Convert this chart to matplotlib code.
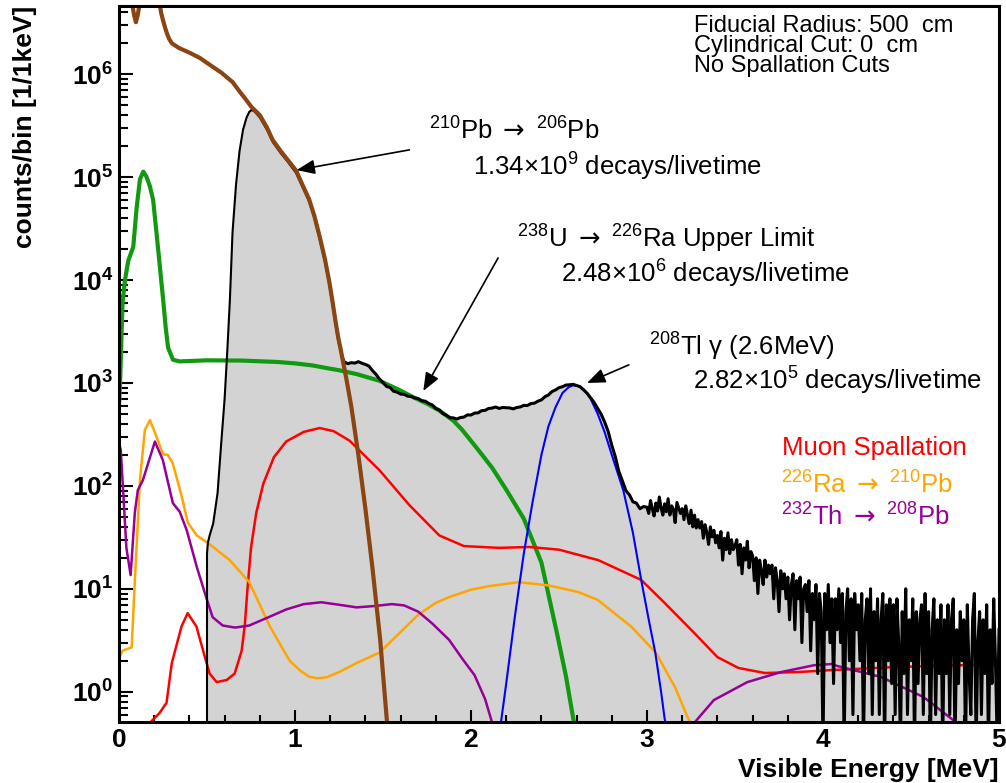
import numpy as np
import matplotlib
matplotlib.use('Agg')
import matplotlib.pyplot as plt
from matplotlib.ticker import LogLocator, MultipleLocator, FuncFormatter, NullFormatter

plt.rcParams['font.family'] = ['Liberation Sans', 'DejaVu Sans']
plt.rcParams['mathtext.fontset'] = 'custom'
plt.rcParams['mathtext.rm'] = 'Liberation Sans'
plt.rcParams['mathtext.it'] = 'Liberation Sans:italic'
plt.rcParams['mathtext.bf'] = 'Liberation Sans:bold'
plt.rcParams['mathtext.sf'] = 'DejaVu Sans'

# --- 210Pb -> 206Pb (brown)
pb210_e = [0.0, 0.05, 0.07, 0.085, 0.096, 0.107, 0.122, 0.15, 0.21, 0.232, 0.24, 0.249, 0.26, 0.272,
           0.285, 0.30, 0.34, 0.40, 0.459, 0.52, 0.58, 0.645, 0.685, 0.72, 0.753, 0.80, 0.84, 0.873,
           0.92, 0.96, 1.006, 1.04, 1.08, 1.11, 1.14, 1.17, 1.195, 1.215, 1.23, 1.245, 1.26, 1.29,
           1.32, 1.36, 1.40, 1.44, 1.484, 1.523, 1.55]
pb210_y = [1e7, 8e6, 5.5e6, 3.8e6, 3.2e6, 3.8e6, 5.5e6, 9e6, 8e6, 4.7e6, 3.9e6, 3.4e6, 2.9e6, 2.5e6,
           2.2e6, 2.0e6, 1.8e6, 1.62e6, 1.44e6, 1.22e6, 1.04e6, 8.4e5, 6.8e5, 5.7e5, 4.8e5, 4.0e5, 3.05e5, 2.3e5,
           1.78e5, 1.46e5, 1.16e5, 8.6e4, 6.1e4, 4.2e4, 2.65e4, 1.6e4, 9.6e3, 5.9e3, 4.0e3, 2.8e3, 2.1e3, 1.14e3,
           590, 200, 60, 16, 3.2, 0.5, 0.2]

# --- 238U -> 226Ra (green)
u238_e = [0.0, 0.006, 0.02, 0.034, 0.053, 0.081, 0.10, 0.119, 0.138, 0.155, 0.175, 0.194, 0.223, 0.251,
          0.265, 0.279, 0.307, 0.345, 0.5, 0.7, 0.9, 1.0, 1.1, 1.195, 1.25, 1.35, 1.48, 1.59, 1.67,
          1.75, 1.82, 1.90, 1.95, 2.04, 2.12, 2.2, 2.3, 2.4, 2.49, 2.54, 2.585, 2.61]
u238_y = [600, 1000, 6000, 1.0e4, 1.55e4, 2.1e4, 5e4, 9.5e4, 1.13e5, 1.02e5, 8.2e4, 6e4, 1.95e4, 6.4e3,
          3.5e3, 2.2e3, 1.68e3, 1.62e3, 1.66e3, 1.65e3, 1.6e3, 1.55e3, 1.48e3, 1.38e3, 1.33e3, 1.22e3, 1.05e3, 860, 730,
          630, 540, 430, 350, 225, 150, 92, 48, 18, 3.6, 1.4, 0.5, 0.3]

# --- 208Tl gamma (blue)
tl208_e = [2.15, 2.17, 2.20, 2.25, 2.30, 2.35, 2.40, 2.44, 2.48, 2.52, 2.555, 2.58, 2.61, 2.64, 2.68,
           2.72, 2.76, 2.80, 2.865, 2.92, 2.967, 3.01, 3.047, 3.08, 3.10, 3.13]
tl208_y = [0.3, 0.5, 1.2, 5.5, 22, 70, 200, 380, 580, 800, 910, 950, 930, 870, 700,
           500, 330, 200, 91, 35, 12.2, 5, 2.4, 1.0, 0.55, 0.3]

# --- Muon spallation (red)
spall_e = [0.15, 0.176, 0.23, 0.27, 0.30, 0.355, 0.39, 0.44, 0.487, 0.515, 0.555, 0.612, 0.657, 0.697,
           0.715, 0.73, 0.75, 0.78, 0.82, 0.88, 0.95, 1.05, 1.14, 1.22, 1.31, 1.48, 1.65, 1.82, 1.96,
           2.16, 2.33, 2.50, 2.723, 2.967, 3.10, 3.27, 3.40, 3.52, 3.67, 3.85, 4.04, 4.42, 5.0]
spall_y = [0.3, 0.5, 0.62, 0.78, 1.9, 4.3, 5.8, 4.3, 2.2, 1.5, 1.24, 1.3, 1.5, 2.5,
           4.5, 10, 25, 55, 105, 190, 270, 335, 365, 340, 275, 142, 65, 33, 26,
           25, 25.5, 24, 19, 12.2, 7.3, 3.7, 2.17, 1.7, 1.52, 1.55, 1.62, 1.74, 1.85]

# --- 226Ra -> 210Pb (orange)
ra226_e = [0.0, 0.02, 0.072, 0.09, 0.119, 0.147, 0.176, 0.215, 0.249, 0.277, 0.306, 0.357, 0.391, 0.442,
           0.504, 0.629, 0.74, 0.80, 0.855, 0.92, 0.97, 1.03, 1.08, 1.124, 1.18, 1.25, 1.35, 1.48, 1.60,
           1.70, 1.80, 1.875, 2.0, 2.10, 2.27, 2.44, 2.61, 2.72, 2.91, 3.05, 3.16, 3.23, 3.26, 3.3]
ra226_y = [2.1, 2.5, 2.7, 12, 114, 350, 435, 295, 203, 200, 165, 78, 44, 33,
           28, 19, 11.6, 7, 4.4, 2.8, 2.0, 1.6, 1.4, 1.35, 1.38, 1.55, 1.9, 2.4, 3.8,
           5.6, 7.3, 8.3, 9.8, 10.6, 11.6, 10.8, 9.3, 7.8, 4.3, 2.4, 1.1, 0.57, 0.45, 0.2]

# --- 232Th -> 208Pb (purple)
th232_e = [0.0, 0.01, 0.02, 0.042, 0.066, 0.09, 0.107, 0.136, 0.204, 0.249, 0.306, 0.345, 0.385, 0.442,
           0.498, 0.532, 0.589, 0.66, 0.74, 0.85, 0.95, 1.05, 1.15, 1.25, 1.35, 1.45, 1.55, 1.62, 1.70, 1.78,
           1.875, 1.95, 2.02, 2.08, 2.12, 2.14, 2.4, 2.8, 3.2, 3.27, 3.29, 3.38, 3.57, 3.76, 3.95, 4.05,
           4.08, 4.33, 4.57, 4.74, 4.78]
th232_y = [260, 223, 114, 25, 13.6, 55, 91, 114, 270, 178, 68, 56, 37, 16.3,
           8.0, 5.3, 4.4, 4.2, 4.4, 5.3, 6.3, 7.1, 7.4, 7.0, 6.6, 6.8, 7.1, 6.9, 6.0, 4.6,
           3.2, 2.1, 1.45, 0.85, 0.5, 0.35, 0.05, 0.02, 0.3, 0.5, 0.55, 0.83, 1.24, 1.55, 1.81, 1.86,
           1.78, 1.39, 0.89, 0.53, 0.45]

# --- data histogram (black, gray fill)
data_rise_e = [0.5, 0.5, 0.505, 0.515, 0.535, 0.56, 0.58, 0.60, 0.615, 0.63, 0.645, 0.665, 0.685, 0.705,
               0.725, 0.74, 0.753, 0.77, 0.80, 0.84, 0.873, 0.92, 0.96, 1.006, 1.04, 1.08, 1.11, 1.14,
               1.17, 1.195, 1.215, 1.23, 1.245, 1.26, 1.27]
data_rise_y = [1e-3, 22, 28, 33, 43, 85, 250, 700, 2000, 6.4e3, 2.9e4, 8.5e4, 1.8e5, 2.9e5,
               3.8e5, 4.3e5, 4.5e5, 4.35e5, 3.8e5, 2.9e5, 2.2e5, 1.7e5, 1.4e5, 1.1e5, 8.2e4, 5.8e4, 4.0e4, 2.5e4,
               1.5e4, 9e3, 5.5e3, 3.7e3, 2.6e3, 2.0e3, 1.75e3]
# 1.28 .. 2.98, every 0.02 MeV
data_mid_y = [1600, 1540, 1575, 1560, 1610, 1555, 1515, 1460, 1320, 1215,
              1090, 1010, 925, 905, 830, 815, 780, 775, 745, 740,
              715, 705, 672, 665, 632, 612, 565, 545, 505, 485,
              460, 458, 446, 462, 466, 490, 488, 510, 512, 538,
              542, 565, 570, 584, 566, 578, 575, 572, 560, 578,
              585, 606, 604, 630, 636, 665, 685, 735, 765, 825,
              855, 900, 920, 955, 960, 970, 945, 920, 855, 795,
              715, 645, 565, 495, 415, 335, 248, 192, 138, 112,
              90, 82, 70, 68, 60, 63]
# 3.00 .. 5.00, every 0.01 MeV
data_tail_y = [62, 54, 72, 60, 51, 68, 57, 78, 61, 52,
               67, 56, 75, 52, 64, 59, 44, 69, 61, 54,
               60, 47, 64, 52, 43, 58, 40, 52, 39, 47,
               39, 45, 31, 42, 35, 27, 40, 32, 37, 28,
               33, 25, 36, 19, 31, 24, 35, 22, 30, 24,
               26, 30, 17, 27, 14, 25, 19, 29, 16, 23,
               21, 12, 20, 9, 19, 15, 11, 19, 13, 17,
               14, 17, 8, 16, 12, 6, 15, 10, 14, 8,
               13, 5, 11, 14, 4, 12, 8, 13, 3, 10,
               11, 6, 12, 2.5, 9, 5, 11, 1.5, 9, 6,
               0.3, 9, 4, 11, 3, 8, 1.2, 8, 4, 10,
               3, 9, 0.3, 6, 10, 2, 8, 0.6, 9, 4,
               7, 2, 9, 0.3, 5, 8, 1.5, 10, 0.6, 6,
               2, 8, 0.6, 5, 9, 0.3, 7, 2, 8, 1.2,
               7, 0.6, 8, 3, 0.3, 6, 1.5, 10, 0.6, 5,
               2, 8, 0.3, 6, 1.2, 5, 7, 0.6, 9, 1.5,
               6, 0.3, 4, 8, 0.6, 5, 1.5, 7, 0.3, 5,
               1.5, 7, 0.6, 5, 8, 0.3, 4, 1.2, 6, 2,
               5, 0.3, 7, 1.5, 0.6, 5, 9, 0.3, 3, 6,
               0.6, 5, 1.5, 7, 0.3, 4, 1.2, 8, 2, 0.3, 4]

mid_e = 1.28 + 0.02 * np.arange(len(data_mid_y))
tail_e = 3.00 + 0.01 * np.arange(len(data_tail_y))
data_e = np.concatenate([data_rise_e, mid_e, tail_e])
data_y = np.concatenate([data_rise_y, data_mid_y, data_tail_y])

W, H = 1006, 783
fig = plt.figure(figsize=(W / 100, H / 100), dpi=100)
ax = fig.add_axes([119 / W, 1 - 722 / H, (999 - 119) / W, (722 - 6) / H])


def fx(px):
    return px / W


def fy(py):
    return 1 - py / H


ax.fill_between(data_e, data_y, 1e-3, color='#d3d3d3', lw=0, zorder=1)
ax.plot(u238_e, u238_y, color='#119911', lw=3, zorder=2)
ax.plot(spall_e, spall_y, color='#ff0000', lw=1.8, zorder=2)
ax.plot(ra226_e, ra226_y, color='#ffa500', lw=1.8, zorder=2)
ax.plot(th232_e, th232_y, color='#960096', lw=1.8, zorder=2)
ax.plot(tl208_e, tl208_y, color='#0000ff', lw=1.5, zorder=2)
# smooth part of the data thin, noisy part thicker
ax.plot(data_rise_e, data_rise_y, color='black', lw=1.5, zorder=3)
ax.plot(data_e[len(data_rise_e) - 1:], data_y[len(data_rise_e) - 1:], color='black', lw=2.2, zorder=3)
ax.plot(pb210_e, pb210_y, color='#8b4513', lw=3, zorder=4)

ax.set_xlim(0, 5)
ax.set_yscale('log')
ax.set_ylim(0.508, 4.6e6)

ax.xaxis.set_major_locator(MultipleLocator(1))
ax.xaxis.set_minor_locator(MultipleLocator(0.2))
ax.xaxis.set_major_formatter(FuncFormatter(lambda v, p: r'$\mathbf{%d}$' % round(v)))
ax.yaxis.set_major_locator(LogLocator(base=10, numticks=20))
ax.yaxis.set_minor_locator(LogLocator(base=10, subs=np.arange(2, 10), numticks=20))
ax.yaxis.set_major_formatter(FuncFormatter(lambda v, p: r'$\mathbf{10^{%d}}$' % round(np.log10(v))))
ax.yaxis.set_minor_formatter(NullFormatter())

ax.tick_params(which='both', direction='in', top=False, right=False, width=1.5, labelsize=19)
ax.tick_params(axis='x', which='major', length=8.5, pad=4)
ax.tick_params(axis='x', which='minor', length=5)
ax.tick_params(axis='y', which='major', length=10, pad=4)
ax.tick_params(axis='y', which='minor', length=6.5)
for sp in ax.spines.values():
    sp.set_linewidth(2.2)
    sp.set_zorder(10)

fig.text(fx(999), fy(777), 'Visible Energy [MeV]', fontsize=19, fontweight='bold',
         ha='right', va='baseline')
fig.text(fx(25), fy(6), 'counts/bin [1/1keV]', fontsize=19, fontweight='bold',
         rotation=90, ha='center', va='top')

arr = r'$\mathsf{\rightarrow}$'
fs = 18.5
fig.text(fx(429), fy(140), r'$^{210}$Pb ' + arr + r' $^{206}$Pb', fontsize=fs, va='baseline')
fig.text(fx(473), fy(176), r'1.34×10$^{9}$ decays/livetime', fontsize=fs, va='baseline')
fig.text(fx(517), fy(248), r'$^{238}$U ' + arr + r' $^{226}$Ra Upper Limit', fontsize=fs, va='baseline')
fig.text(fx(561), fy(283), r'2.48×10$^{6}$ decays/livetime', fontsize=fs, va='baseline')
fig.text(fx(649), fy(356), r'$^{208}$Tl γ (2.6MeV)', fontsize=fs, va='baseline')
fig.text(fx(693), fy(390), r'2.82×10$^{5}$ decays/livetime', fontsize=fs, va='baseline')

fig.text(fx(694), fy(32), 'Fiducial Radius: 500  cm', fontsize=17, va='baseline')
fig.text(fx(694), fy(52), 'Cylindrical Cut: 0  cm', fontsize=17, va='baseline')
fig.text(fx(694), fy(72), 'No Spallation Cuts', fontsize=17, va='baseline')

fig.text(fx(782), fy(455), 'Muon Spallation', fontsize=fs, color='#ff0000', va='baseline')
fig.text(fx(781), fy(494), r'$^{226}$Ra ' + arr + r' $^{210}$Pb', fontsize=fs, color='#ffa500', va='baseline')
fig.text(fx(781), fy(526), r'$^{232}$Th ' + arr + r' $^{208}$Pb', fontsize=fs, color='#960096', va='baseline')

arrow = dict(arrowstyle='-|>,head_length=0.55,head_width=0.22', color='black', lw=1.2,
             mutation_scale=20, shrinkA=0, shrinkB=0)
ax.annotate('', xy=(1.009, 1.17e5), xytext=(1.650, 1.84e5), arrowprops=arrow, zorder=6)
ax.annotate('', xy=(1.729, 836), xytext=(2.154, 1.64e4), arrowprops=arrow, zorder=6)
ax.annotate('', xy=(2.659, 1000), xytext=(2.897, 1.5e3), arrowprops=arrow, zorder=6)

fig.savefig('out.png', dpi=100)
